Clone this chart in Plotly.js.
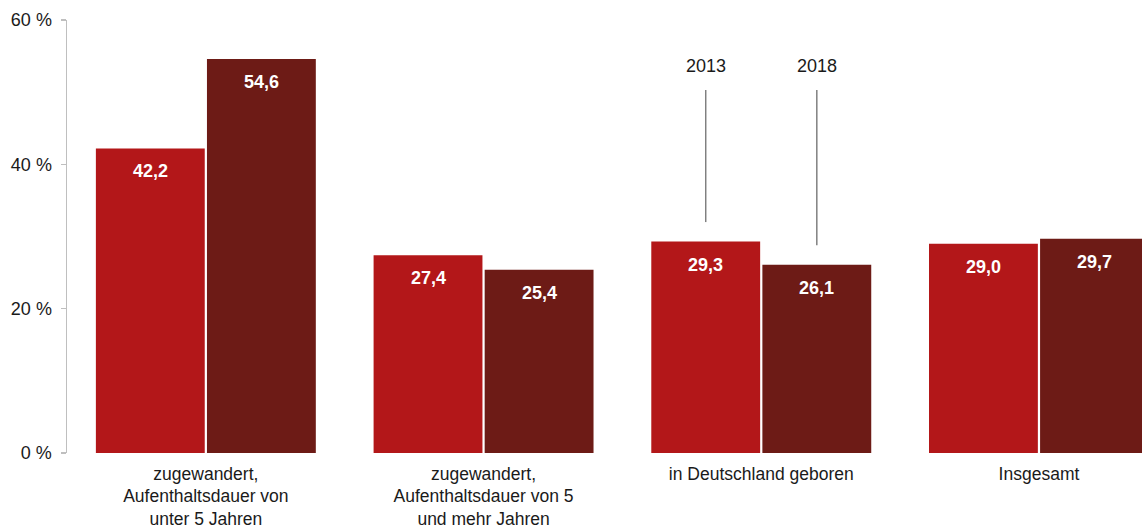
<!DOCTYPE html>
<html>
<head>
<meta charset="utf-8">
<script src="https://cdn.plot.ly/plotly-3.0.1.min.js"></script>
<style>html,body{margin:0;padding:0;background:#fff;}#chart{width:1142px;height:529px;}</style>
</head>
<body>
<div id="chart"></div>
<script>
const categories = [
  "zugewandert,<br>Aufenthaltsdauer von<br>unter 5 Jahren",
  "zugewandert,<br>Aufenthaltsdauer von 5<br>und mehr Jahren",
  "in Deutschland geboren",
  "Insgesamt"
];
const years = ["2013", "2018"];
const values2013 = [42.2, 27.4, 29.3, 29.0];
const values2018 = [54.6, 25.4, 26.1, 29.7];
const yTicks = [0, 20, 40, 60];
const legendLineEnds = [32.0, 28.8];   // lower ends of the leader lines (data units)
const legendLineTop = 50.3;
const legendTextY = 53.6;

const colors = ["#B31719", "#6D1B16"];
const font = "Liberation Sans, Arial, sans-serif";
const xIdx = categories.map((_, i) => i);
const fmt = v => v.toFixed(1).replace(".", ",");

const traces = [values2013, values2018].map((vals, k) => ({
  type: "bar",
  name: years[k],
  x: xIdx,
  y: vals,
  marker: {color: colors[k], line: {width: 0}},
  hoverinfo: "skip"
}));

const annotations = [];
const offsets = [-0.2, 0.2];
[values2013, values2018].forEach((vals, k) => {
  vals.forEach((v, i) => {
    annotations.push({
      x: i + offsets[k], y: v, xref: "x", yref: "y",
      text: fmt(v), showarrow: false, yanchor: "middle", yshift: -23,
      font: {family: font, size: 18, color: "#ffffff", weight: "bold"}
    });
  });
});
const shapes = [];
years.forEach((yr, k) => {
  annotations.push({
    x: 2 + offsets[k], y: legendTextY, xref: "x", yref: "y",
    text: yr, showarrow: false, yanchor: "middle",
    font: {family: font, size: 18, color: "#1a1a1a"}
  });
  shapes.push({
    type: "line", xref: "x", yref: "y",
    x0: 2 + offsets[k], x1: 2 + offsets[k],
    y0: legendLineEnds[k], y1: legendLineTop,
    line: {color: "#808080", width: 1.5}
  });
});

const layout = {
  width: 1142, height: 529,
  margin: {l: 67, r: 0, t: 20, b: 76},
  paper_bgcolor: "#fff", plot_bgcolor: "#fff",
  barmode: "group", bargap: 0.2, bargroupgap: 0.02,
  showlegend: false,
  font: {family: font, size: 18, color: "#1a1a1a"},
  xaxis: {
    type: "linear",
    range: [-0.5, 3.371],
    tickmode: "array", tickvals: xIdx, ticktext: categories,
    showline: false, showgrid: false, zeroline: false, ticks: "",
    ticklabelstandoff: 8,
    tickfont: {family: font, size: 17.5, color: "#1a1a1a"},
    fixedrange: true
  },
  yaxis: {
    range: [0, 60],
    tickmode: "array", tickvals: yTicks, ticktext: yTicks.map(t => t + " %"),
    showline: true, linecolor: "#BFBFBF", linewidth: 1.5,
    ticks: "outside", ticklen: 5, tickcolor: "#BFBFBF", tickwidth: 1.5,
    ticklabelstandoff: 5,
    showgrid: false, zeroline: false,
    tickfont: {family: font, size: 18, color: "#1a1a1a"},
    fixedrange: true
  },
  annotations: annotations,
  shapes: shapes
};

Plotly.newPlot("chart", traces, layout, {displayModeBar: false, staticPlot: true});
</script>
</body>
</html>
